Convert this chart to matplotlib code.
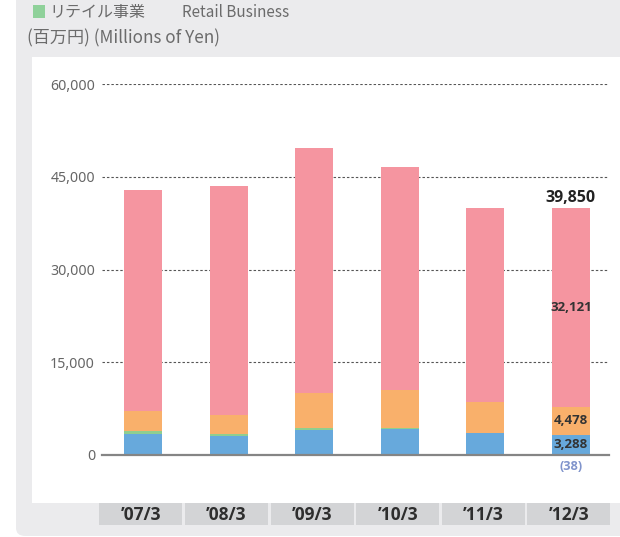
import matplotlib
matplotlib.use("Agg")
import matplotlib.pyplot as plt
from matplotlib.patches import Rectangle, FancyBboxPatch
from matplotlib.transforms import blended_transform_factory
import numpy as np

# ---- data ----
categories = ["’07/3", "’08/3", "’09/3", "’10/3", "’11/3", "’12/3"]
navy = [-30, -30, -30, -30, -30, -38]
blue = [3450, 3120, 4040, 4200, 3560, 3288]
green = [430, 320, 320, 160, 50, 1]
orange = [3240, 3020, 5660, 6150, 5010, 4478]
pink = [35740, 37090, 39630, 36070, 31330, 32121]
total_last = 39850
yticks = [0, 15000, 30000, 45000, 60000]
ytick_labels = ["0", "15,000", "30,000", "45,000", "60,000"]

c_navy = "#3f5f96"
c_blue = "#67a9dc"
c_green = "#8fce8f"
c_orange = "#f9b06b"
c_pink = "#f595a0"

W, H = 620, 537
fig = plt.figure(figsize=(W / 100, H / 100), dpi=100)
fig.patch.set_facecolor("white")


def fx(px):
    return px / W


def fy(py):
    return 1 - py / H


# grey outer panel (rounded)
outer = FancyBboxPatch((fx(16), fy(536)), fx(660) - fx(16), fy(-20) - fy(536),
                       boxstyle="round,pad=0,rounding_size=0.015",
                       transform=fig.transFigure, facecolor="#ebebed",
                       edgecolor="none", zorder=-5)
fig.patches.append(outer)
# white inner panel
inner = Rectangle((fx(32), fy(503)), fx(620) - fx(32), fy(57) - fy(503),
                  transform=fig.transFigure, facecolor="white",
                  edgecolor="none", zorder=-4)
fig.patches.append(inner)

# header
fig.patches.append(Rectangle((fx(33), fy(18)), fx(12), fy(5) - fy(18),
                             transform=fig.transFigure, facecolor="#8fd19a",
                             edgecolor="none", zorder=-3))
jp = ["Noto Sans CJK JP", "DejaVu Sans"]
fig.text(fx(49), fy(12.5), "リテイル事業", family=jp, fontsize=11.5,
         color="#6b6b6b", va="center", ha="left")
fig.text(fx(182), fy(12.5), "Retail Business", family=jp, fontsize=11,
         color="#6b6b6b", va="center", ha="left")
fig.text(fx(27), fy(38), "(百万円) (Millions of Yen)", family=jp,
         fontsize=12.3, color="#6b6b6b", va="center", ha="left")

# axes
ax = fig.add_axes([fx(102), fy(455), fx(609) - fx(102), fy(84) - fy(455)])
ax.set_facecolor("none")
x = np.arange(len(categories))
bw = 0.445
b0 = np.array(blue)
b1 = b0 + np.array(green)
b2 = b1 + np.array(orange)
ax.bar(x, navy, bw, color=c_navy, zorder=2, clip_on=False, linewidth=0)
ax.bar(x, blue, bw, color=c_blue, zorder=2, linewidth=0)
ax.bar(x, green, bw, bottom=b0, color=c_green, zorder=2, linewidth=0)
ax.bar(x, orange, bw, bottom=b1, color=c_orange, zorder=2, linewidth=0)
ax.bar(x, pink, bw, bottom=b2, color=c_pink, zorder=2, linewidth=0)

ax.set_xlim(-0.479, 5.444)
ax.set_ylim(0, 60000)
ax.set_yticks(yticks)
ax.set_yticklabels(ytick_labels, family="Noto Sans", fontsize=10.2, color="#666666")
ax.tick_params(axis="y", length=0, pad=5)
ax.set_xticks([])
for s in ["top", "right", "left"]:
    ax.spines[s].set_visible(False)
ax.spines["bottom"].set_color("#858585")
ax.spines["bottom"].set_linewidth(1.6)
ax.spines["bottom"].set_zorder(3)
ax.yaxis.grid(True, linestyle=(0, (2.2, 1.8)), color="#555555", linewidth=0.8)
ax.set_axisbelow(True)

bf = "Open Sans"
# value labels for last bar
i = 5
ax.text(i, total_last + 350, f"{total_last:,}", ha="center", va="bottom",
        family=bf, fontsize=11.5, fontweight="bold", color="#222222")
ax.text(i, b2[i] + pink[i] / 2, f"{pink[i]:,}", ha="center", va="center",
        family=bf, fontsize=9.5, fontweight="bold", color="#333333")
ax.text(i, b1[i] + orange[i] / 2, f"{orange[i]:,}", ha="center", va="center",
        family=bf, fontsize=9.5, fontweight="bold", color="#333333")
ax.text(i, blue[i] / 2, f"{blue[i]:,}", ha="center", va="center",
        family=bf, fontsize=9.5, fontweight="bold", color="#333333")
ax.text(i, -1800, f"({-navy[i]})", ha="center", va="center",
        family=bf, fontsize=9.2, fontweight="bold", color="#8094cc",
        clip_on=False)

# category boxes
tr = blended_transform_factory(ax.transData, fig.transFigure)
bwid = 83 / 85.6
for k, lab in enumerate(categories):
    cx = k - 0.025
    r = Rectangle((cx - bwid / 2, fy(525)), bwid, fy(503) - fy(525),
                  transform=tr, facecolor="#d3d4d6", edgecolor="none",
                  clip_on=False, zorder=1)
    ax.add_artist(r)
    ax.text(cx, fy(514.5), lab, transform=tr, ha="center", va="center",
            family=bf, fontsize=12.5, fontweight="bold",
            color="#2e2e2e", clip_on=False)

fig.savefig("out.png", dpi=100)
